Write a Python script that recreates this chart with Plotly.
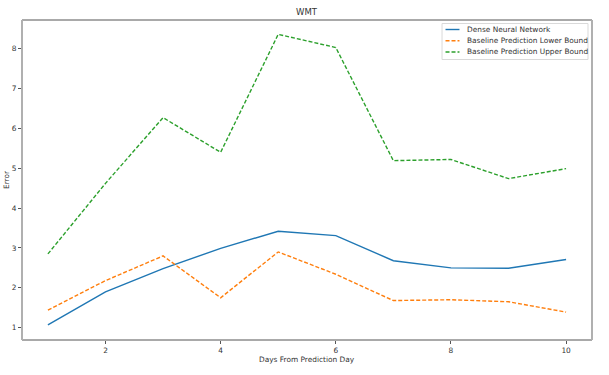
import plotly.graph_objects as go

days = [1, 2, 3, 4, 5, 6, 7, 8, 9, 10]
dense_nn = [1.07, 1.90, 2.48, 2.99, 3.42, 3.31, 2.68, 2.50, 2.49, 2.71]
lower_bound = [1.44, 2.18, 2.80, 1.75, 2.90, 2.34, 1.68, 1.70, 1.65, 1.39]
upper_bound = [2.85, 4.62, 6.27, 5.40, 8.36, 8.03, 5.19, 5.22, 4.74, 4.99]
x_ticks = [2, 4, 6, 8, 10]
y_ticks = [1, 2, 3, 4, 5, 6, 7, 8]
series_names = ["Dense Neural Network", "Baseline Prediction Lower Bound",
                "Baseline Prediction Upper Bound"]
series_colors = ["#1f77b4", "#ff7f0e", "#2ca02c"]
series_dash = ["solid", "4px,2px", "4px,2px"]
series_values = [dense_nn, lower_bound, upper_bound]

fig = go.Figure()
for name, vals, col, dash in zip(series_names, series_values, series_colors, series_dash):
    fig.add_trace(go.Scatter(x=days, y=vals, mode="lines", name=name,
                             line=dict(color=col, width=1.4, dash=dash)))

font = dict(family="DejaVu Sans", size=7.4, color="#333333")

# plot area in px: x 20..592, y 20..340
W, H, L, T = 572.0, 320.0, 20.0, 20.0
def px(x):
    return (x - L) / W
def py(y):
    return 1 - (y - T) / H

shapes = [
    dict(type="line", xref="paper", yref="paper", x0=0, x1=1, y0=1, y1=1,
         line=dict(color="#555555", width=1)),
    dict(type="line", xref="paper", yref="paper", x0=0, x1=1, y0=0, y1=0,
         line=dict(color="#555555", width=1)),
    dict(type="line", xref="paper", yref="paper", x0=0, x1=0, y0=0, y1=1,
         line=dict(color="#b0b0b0", width=2)),
    dict(type="line", xref="paper", yref="paper", x0=1, x1=1, y0=0, y1=1,
         line=dict(color="#b0b0b0", width=2)),
    # legend box
    dict(type="rect", xref="paper", yref="paper", x0=px(441.5), x1=px(588), y0=py(23.5), y1=py(59.5),
         line=dict(color="#d9d9d9", width=1), fillcolor="rgba(255,255,255,0.8)"),
]
annotations = [
    dict(text="WMT", xref="paper", yref="paper", x=0.5, y=1, yanchor="middle", yshift=8,
         showarrow=False, font=dict(family="DejaVu Sans", size=8.5, color="#333333")),
    dict(text="Days From Prediction Day", xref="paper", yref="paper", x=0.5, y=0,
         yanchor="middle", yshift=-19, showarrow=False, font=font),
    dict(text="Error", xref="paper", yref="paper", x=0, y=0.5, xanchor="center",
         yanchor="middle", xshift=-16, textangle=-90, showarrow=False, font=font),
]
rows_y = [29.5, 40.8, 52.0]
for name, col, dash, ry in zip(series_names, series_colors, series_dash, rows_y):
    shapes.append(dict(type="line", xref="paper", yref="paper", x0=px(445), x1=px(459),
                       y0=py(ry), y1=py(ry), line=dict(color=col, width=1.4, dash=dash)))
    annotations.append(dict(text=name, xref="paper", yref="paper", x=px(465), y=py(ry),
                            xanchor="left", yanchor="middle", showarrow=False, font=font))

fig.update_layout(
    width=609, height=375,
    margin=dict(l=20, r=17, t=20, b=35),
    paper_bgcolor="white", plot_bgcolor="white",
    font=font,
    showlegend=False,
    xaxis=dict(range=[0.55, 10.45], tickvals=x_ticks, ticks="outside", ticklen=3,
               tickcolor="#555555", showgrid=False, zeroline=False, showline=False,
               tickfont=font),
    yaxis=dict(range=[0.69, 8.72], tickvals=y_ticks, ticks="outside", ticklen=3,
               tickcolor="#555555", showgrid=False, zeroline=False, showline=False,
               tickfont=font),
    annotations=annotations,
    shapes=shapes,
)

fig.write_html("out.html")
